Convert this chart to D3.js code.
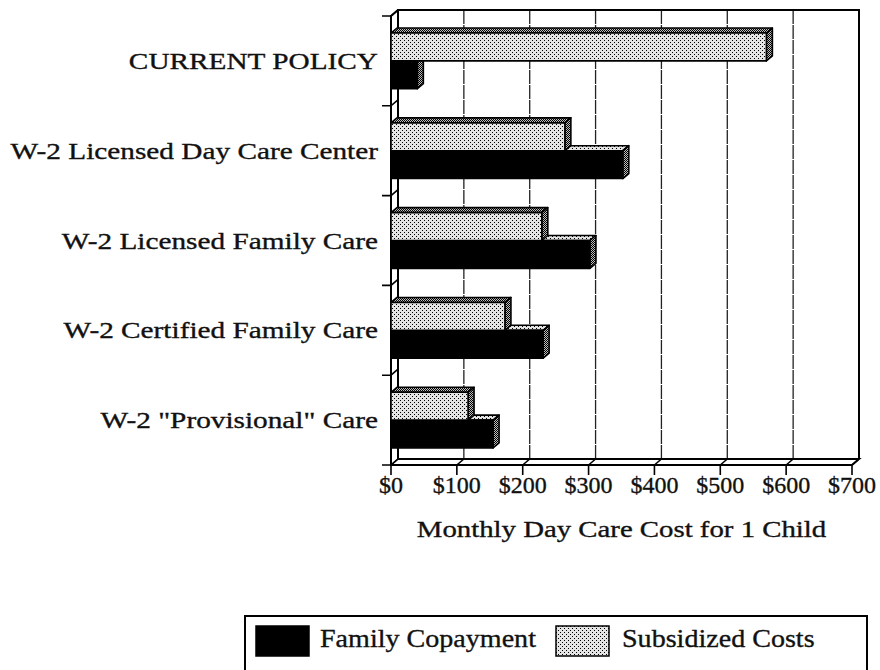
<!DOCTYPE html>
<html>
<head>
<meta charset="utf-8">
<script src="https://cdn.jsdelivr.net/npm/d3@7"></script>
<style>
  body { margin: 0; background: #fff; }
  text { font-family: "Liberation Serif", "Times New Roman", serif; fill: #111; stroke: #111; stroke-width: 0.35; }
</style>
</head>
<body>
<div id="chart"></div>
<script>
const categories = ["CURRENT POLICY", "W-2 Licensed Day Care Center", "W-2 Licensed Family Care",
    "W-2 Certified Family Care", 'W-2 "Provisional" Care'];
const copayment = [40, 352, 302, 231, 155];
const subsidized = [570, 264, 229, 173, 117];
const xTicks = [0, 100, 200, 300, 400, 500, 600, 700];
const tickLabels = ["$0", "$100", "$200", "$300", "$400", "$500", "$600", "$700"];
const seriesNames = ["Family Copayment", "Subsidized Costs"];

const width = 880, height = 670;
const depthX = 7, depthY = 6;     // wall depth
const barDX = 6, barDY = 5;       // bar depth

const svg = d3.select("#chart").append("svg")
    .attr("width", width)
    .attr("height", height);

// dotted fills
const defs = svg.append("defs");
function dots(id, size, bg) {
    const p = defs.append("pattern").attr("id", id)
        .attr("width", size).attr("height", size)
        .attr("patternUnits", "userSpaceOnUse");
    p.append("rect").attr("width", size).attr("height", size).attr("fill", bg);
    p.append("rect").attr("x", 0).attr("y", 0).attr("width", 1).attr("height", 1).attr("fill", "#000");
    p.append("rect").attr("x", size / 2).attr("y", size / 2).attr("width", 1).attr("height", 1).attr("fill", "#000");
}
dots("light", 4, "#e4e4e4");
dots("dark", 2, "#bdbdbd");

const x = d3.scaleLinear().domain([0, 700]).range([391, 852]);
const y = d3.scaleBand().domain(categories).range([16, 465])
    .paddingInner(0.38).paddingOuter(0.19);
const ySub = d3.scaleBand().domain(["subsidized", "copayment"]).range([0, y.bandwidth()]);

const step = y.step();
const bandTop = i => 16 + i * step;

// back wall gridlines
svg.append("g")
    .selectAll("line")
    .data(xTicks.slice(1, -1))
    .enter().append("line")
    .attr("x1", d => x(d) + depthX).attr("x2", d => x(d) + depthX)
    .attr("y1", 16 - depthY).attr("y2", 465 - depthY)
    .attr("stroke", "#222").attr("stroke-width", 1.3)
    .attr("stroke-dasharray", "14,1");

const frame = svg.append("g").attr("fill", "none").attr("stroke", "#000").attr("stroke-width", 2);
// back wall
frame.append("path").attr("d",
    `M${x(0) + depthX},${465 - depthY} V${16 - depthY} H${x(700) + depthX} V${465 - depthY}`);
// floor
frame.append("path").attr("d",
    `M${x(0)},465 H${x(700)} L${x(700) + depthX},${465 - depthY} H${x(0) + depthX}`);
// left wall front edge
frame.append("path").attr("d",
    `M${x(0)},465 V16 L${x(0) + depthX},${16 - depthY}`);

// category ticks on left wall
const catTicks = d3.range(categories.length + 1).map(bandTop);
frame.append("g").selectAll("path")
    .data(catTicks)
    .enter().append("path")
    .attr("stroke-width", 1.6)
    .attr("d", d => `M${x(0) - 9},${d} H${x(0)} L${x(0) + depthX},${d - depthY}`);

// x ticks
frame.append("g").selectAll("path")
    .data(xTicks)
    .enter().append("path")
    .attr("stroke-width", 1.6)
    .attr("d", d => `M${x(d)},475 V465 L${x(d) + depthX},${465 - depthY}`);

// 3d bars
function bar(g, y0, h, v, front, top, side) {
    const x0 = x(0), x1 = x(v);
    g.append("polygon")
        .attr("points", [[x0, y0], [x0 + barDX, y0 - barDY], [x1 + barDX, y0 - barDY], [x1, y0]].join(" "))
        .attr("fill", top);
    g.append("polygon")
        .attr("points", [[x1, y0], [x1 + barDX, y0 - barDY], [x1 + barDX, y0 + h - barDY], [x1, y0 + h]].join(" "))
        .attr("fill", side);
    g.append("rect")
        .attr("x", x0).attr("y", y0)
        .attr("width", x1 - x0).attr("height", h)
        .attr("fill", front);
}

const bars = svg.append("g")
    .attr("stroke", "#000").attr("stroke-width", 1.6).attr("stroke-linejoin", "round");
categories.forEach((c, i) => {
    const g = bars.append("g");
    bar(g, y(c) + ySub("copayment"), ySub.bandwidth(), copayment[i], "#000", "url(#light)", "url(#dark)");
    bar(g, y(c) + ySub("subsidized"), ySub.bandwidth(), subsidized[i], "url(#light)", "url(#dark)", "url(#dark)");
});

// stretched text helper
function label(g, tx, ty, str, size, sx, anchor) {
    return g.append("text")
        .attr("transform", `translate(${tx},${ty}) scale(${sx},1)`)
        .attr("text-anchor", anchor)
        .attr("font-size", size)
        .text(str);
}

const labels = svg.append("g");
categories.forEach((c, i) => {
    label(labels, 378, bandTop(i) + step / 2 + 8, c, 24, 1.22, "end");
});

xTicks.forEach((d, i) => {
    label(labels, x(d), 493, tickLabels[i], 24, 1, "middle");
});

label(labels, (x(0) + x(700)) / 2, 537, "Monthly Day Care Cost for 1 Child", 24, 1.2, "middle");

// legend
const legend = svg.append("g");
legend.append("rect")
    .attr("x", 245).attr("y", 616).attr("width", 622).attr("height", 70)
    .attr("fill", "none").attr("stroke", "#000").attr("stroke-width", 2);
legend.append("rect")
    .attr("x", 256).attr("y", 626).attr("width", 53).attr("height", 30)
    .attr("fill", "#000").attr("stroke", "#000").attr("stroke-width", 1.5);
label(legend, 320, 647, seriesNames[0], 26, 1.08, "start");
legend.append("rect")
    .attr("x", 556).attr("y", 626).attr("width", 53).attr("height", 30)
    .attr("fill", "url(#light)").attr("stroke", "#000").attr("stroke-width", 1.5);
label(legend, 622, 647, seriesNames[1], 26, 1.08, "start");
</script>
</body>
</html>
